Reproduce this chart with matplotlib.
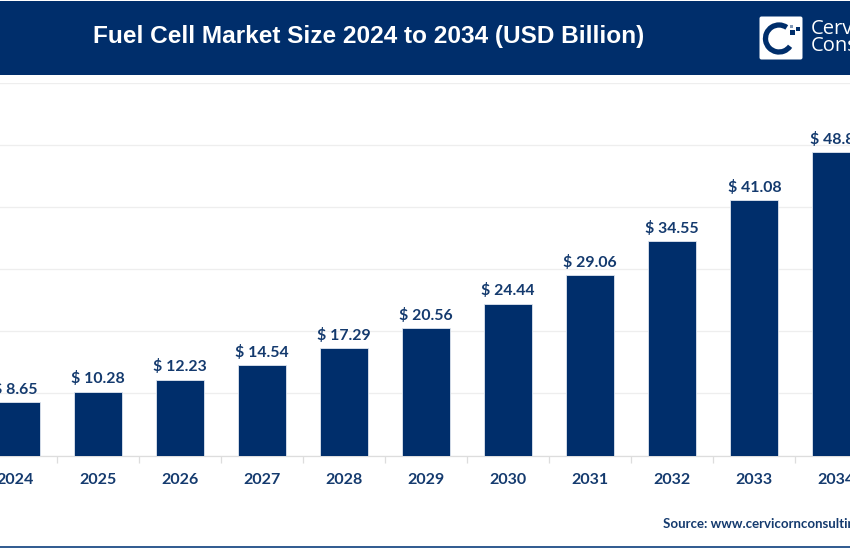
import matplotlib
matplotlib.use("Agg")
import matplotlib.pyplot as plt
from matplotlib.patches import FancyBboxPatch, Rectangle, Arc
import numpy as np

years = ["2024", "2025", "2026", "2027", "2028", "2029", "2030", "2031", "2032", "2033", "2034"]
market_size = [8.65, 10.28, 12.23, 14.54, 17.29, 20.56, 24.44, 29.06, 34.55, 41.08, 48.84]
y_ticks = [0, 10, 20, 30, 40, 50, 60]

NAVY = "#002e6b"
LABEL = "#143a6e"
GRID = "#eeeeee"
W, H = 850, 550

fig = plt.figure(figsize=(W / 100, H / 100), dpi=100, facecolor="white")

# chart axes, placed in pixels so the bars line up with the reference
ax = fig.add_axes([0, (H - 455.5) / H, 1, (455.5 - 83) / H])
x = np.arange(len(years))
step = 82.1
x0 = 15.5
ax.set_xlim(-x0 / step, (W - x0) / step)
ax.set_ylim(0, 60)
ax.bar(x, market_size, width=48 / step, color=NAVY, edgecolor="#dfe6ef", linewidth=0.6, zorder=3)
ax.set_yticks(y_ticks)
ax.yaxis.grid(True, color=GRID, linewidth=0.9)
ax.set_axisbelow(True)
ax.tick_params(axis="y", left=False, labelleft=False)
ax.set_xticks(x, labels=years, family="Lato", fontweight="bold", fontsize=11.5, color=LABEL)
ax.set_xticks(x[:-1] + 0.5, minor=True)
ax.tick_params(axis="x", which="major", length=0, pad=12.5)
ax.tick_params(axis="x", which="minor", length=5, width=0.9, color="#dddddd")
for side in ["top", "left", "right"]:
    ax.spines[side].set_visible(False)
ax.spines["bottom"].set_color("#dddddd")
ax.spines["bottom"].set_linewidth(0.9)

for i, v in enumerate(market_size):
    ax.text(i, v + 0.85, f"$ {v:.2f}", ha="center", va="bottom", family="Lato",
            fontweight="bold", fontsize=11.4, color=LABEL, zorder=4)

# overlay in pixel coordinates for header, logo and footer
ov = fig.add_axes([0, 0, 1, 1])
ov.set_xlim(0, W)
ov.set_ylim(H, 0)
ov.axis("off")
ov.patch.set_alpha(0)

ov.add_patch(Rectangle((0, 1), W, 73.5, facecolor=NAVY, edgecolor="none"))
ov.text(368.5, 37, "Fuel Cell Market Size 2024 to 2034 (USD Billion)", ha="center", va="center",
        family="Liberation Sans", fontweight="bold", fontsize=17.6, color="white")

# logo
ov.add_patch(FancyBboxPatch((759.5, 16.5), 43, 43, boxstyle="round,pad=0,rounding_size=2",
                            facecolor="white", edgecolor="none"))
ov.add_patch(Arc((779, 38.5), 27, 27, theta1=35, theta2=305, color=NAVY, linewidth=3.8))
ov.add_patch(Rectangle((790, 30), 5, 5, facecolor=NAVY, edgecolor="none"))
ov.add_patch(Rectangle((796, 26.5), 4, 4, facecolor=NAVY, edgecolor="none"))
ov.add_patch(Rectangle((790, 25), 3, 3, facecolor="#7f96b5", edgecolor="none"))
ov.text(810.5, 28.5, "Cervicorn", ha="left", va="center", family="Open Sans", fontsize=14.5, color="white")
ov.text(810.5, 45.5, "Consulting", ha="left", va="center", family="Open Sans", fontsize=14.5, color="white")

# footer
ov.text(663, 524, "Source: www.cervicornconsulting.com", ha="left", va="center", family="Lato",
        fontweight="bold", fontsize=9.5, color=LABEL)
ov.plot([0, W], [546.5, 546.5], color="#2f5a8f", linewidth=1.4)

fig.savefig("out.png", dpi=100)
